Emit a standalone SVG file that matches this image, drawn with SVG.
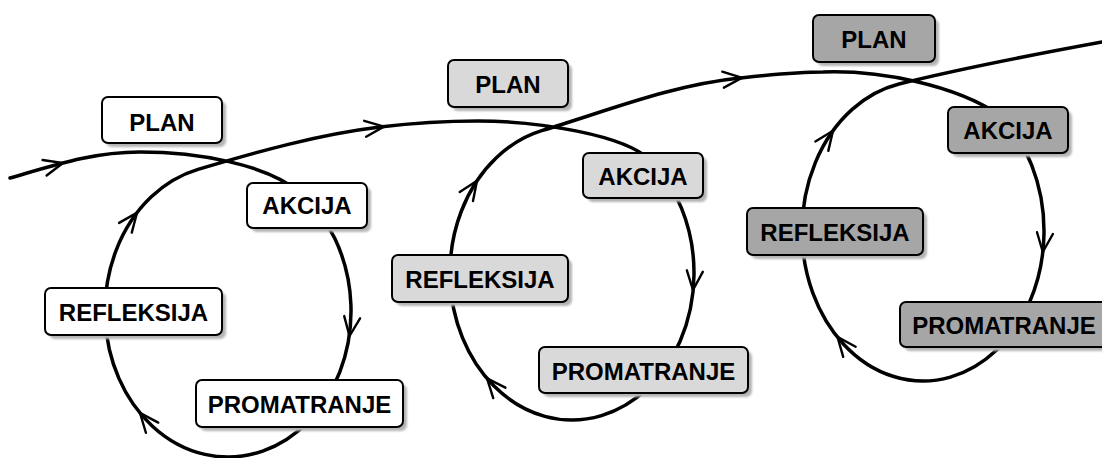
<svg xmlns="http://www.w3.org/2000/svg" xmlns:xlink="http://www.w3.org/1999/xlink" width="1102" height="458" viewBox="0 0 1102 458">
<defs>
<style>
.line{fill:none;stroke:#000;stroke-width:3.5;stroke-linecap:round;stroke-linejoin:round}
.ah{fill:none;stroke:#000;stroke-width:2.4;stroke-linecap:round;stroke-linejoin:miter}
.sh{fill:#b4b4b4;filter:url(#blur)}
.box{stroke:#000;stroke-width:2}
.c1{fill:#ffffff}
.c2{fill:#d9d9d9}
.c3{fill:#a6a6a6}
.t{font-family:"Liberation Sans",Arial,sans-serif;font-weight:bold;font-size:24px;text-anchor:middle;fill:#000}
</style>
<filter id="blur" x="-10%" y="-20%" width="120%" height="140%"><feGaussianBlur stdDeviation="1"/></filter>
<path id="ah" class="ah" d="M-19,-8 L0,0 L-19,8"/>
</defs>
<rect width="1102" height="458" fill="#fff"/>
<g id="connectors">
<path class="line" d="M10,178 C55,165 93,152 140,152 C195,152 265.8,163.4 300,192.6 A123,146 0 1 1 198,169.4 C257.4,151.7 318.6,134.4 380,127 C413,123 445,121 478,121 C538,121 625,135 650,160 A122,147 0 1 1 542.5,130.4 C607.6,110.8 672.3,84.8 740,78 C768,75 795,72 823,72 C880,70 955,85 1000,115.3 A121,150 0 1 1 899,84 C959,69 1042,53 1102,42"/>
<use href="#ah" transform="translate(63,163) rotate(-14.6)"/>
<use href="#ah" transform="translate(384,126.5) rotate(-6.9)"/>
<use href="#ah" transform="translate(137,212.7) rotate(-52.5)"/>
<use href="#ah" transform="translate(349.5,336) rotate(98)"/>
<use href="#ah" transform="translate(140,413) rotate(-129.5)"/>
<use href="#ah" transform="translate(477,180.8) rotate(-56)"/>
<use href="#ah" transform="translate(693,290) rotate(95.5)"/>
<use href="#ah" transform="translate(487,378.4) rotate(-130.5)"/>
<use href="#ah" transform="translate(742,77.8) rotate(-5.7)"/>
<use href="#ah" transform="translate(833,130.8) rotate(-54)"/>
<use href="#ah" transform="translate(1042.8,252) rotate(96.5)"/>
<use href="#ah" transform="translate(837.5,337) rotate(-128.9)"/>
</g>
<g id="plan1"><rect class="sh" x="106" y="101" width="120" height="46" rx="6"/><rect class="box c1" x="102" y="97" width="120" height="46" rx="6"/><text class="t" x="162" y="130.5">PLAN</text></g>
<g id="akcija1"><rect class="sh" x="251" y="187" width="120" height="45" rx="6"/><rect class="box c1" x="247" y="183" width="120" height="45" rx="6"/><text class="t" x="307" y="214">AKCIJA</text></g>
<g id="refleksija1"><rect class="sh" x="49" y="292" width="177" height="47" rx="6"/><rect class="box c1" x="45" y="288" width="177" height="47" rx="6"/><text class="t" x="133.5" y="320.5">REFLEKSIJA</text></g>
<g id="promatranje1"><rect class="sh" x="200" y="384" width="207" height="47" rx="6"/><rect class="box c1" x="196" y="380" width="207" height="47" rx="6"/><text class="t" x="299.5" y="413">PROMATRANJE</text></g>
<g id="plan2"><rect class="sh" x="452" y="64" width="120" height="47" rx="6"/><rect class="box c2" x="448" y="60" width="120" height="47" rx="6"/><text class="t" x="508" y="92.5">PLAN</text></g>
<g id="akcija2"><rect class="sh" x="587" y="157" width="120" height="45" rx="6"/><rect class="box c2" x="583" y="153" width="120" height="45" rx="6"/><text class="t" x="643" y="184.5">AKCIJA</text></g>
<g id="refleksija2"><rect class="sh" x="396" y="259" width="176" height="47" rx="6"/><rect class="box c2" x="392" y="255" width="176" height="47" rx="6"/><text class="t" x="480" y="287.5">REFLEKSIJA</text></g>
<g id="promatranje2"><rect class="sh" x="543" y="351" width="209" height="46" rx="6"/><rect class="box c2" x="539" y="347" width="209" height="46" rx="6"/><text class="t" x="643.5" y="379.5">PROMATRANJE</text></g>
<g id="plan3"><rect class="sh" x="817" y="19" width="122" height="47" rx="6"/><rect class="box c3" x="813" y="15" width="122" height="47" rx="6"/><text class="t" x="874" y="47.5">PLAN</text></g>
<g id="akcija3"><rect class="sh" x="952" y="111" width="120" height="46" rx="6"/><rect class="box c3" x="948" y="107" width="120" height="46" rx="6"/><text class="t" x="1008" y="139">AKCIJA</text></g>
<g id="refleksija3"><rect class="sh" x="751" y="212" width="176" height="47" rx="6"/><rect class="box c3" x="747" y="208" width="176" height="47" rx="6"/><text class="t" x="835" y="240.5">REFLEKSIJA</text></g>
<g id="promatranje3"><rect class="sh" x="904" y="306" width="210" height="45" rx="6"/><rect class="box c3" x="900" y="302" width="210" height="45" rx="6"/><text class="t" x="1004" y="333.5">PROMATRANJE</text></g>
</svg>
